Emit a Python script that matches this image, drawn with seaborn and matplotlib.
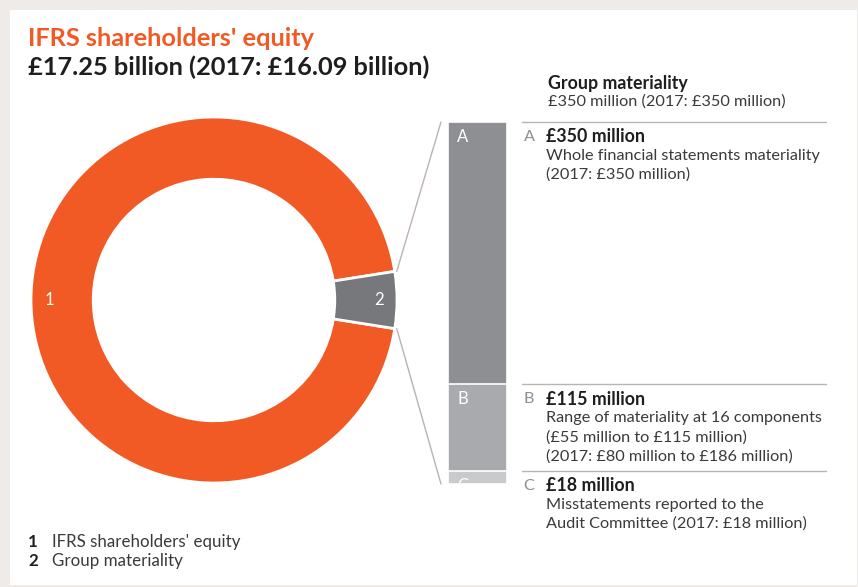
import matplotlib
matplotlib.use("Agg")
import matplotlib.pyplot as plt
import matplotlib.transforms as mtransforms
from matplotlib.patches import Rectangle
import numpy as np
import pandas as pd
import seaborn as sns

# --- data ---
donut_labels = ["1", "2"]
donut_names = ["IFRS shareholders' equity", "Group materiality"]
donut_share = [95.0, 5.0]          # share of ring as drawn in the picture (%)
seg_letters = ["A", "B", "C"]
seg_values = [350, 115, 18]        # £ million
seg_titles = ["£350 million", "£115 million", "£18 million"]
seg_notes = [
    ["Whole financial statements materiality", "(2017: £350 million)"],
    ["Range of materiality at 16 components", "(£55 million to £115 million)",
     "(2017: £80 million to £186 million)"],
    ["Misstatements reported to the", "Audit Committee (2017: £18 million)"],
]

ORANGE = "#f15a24"
SLICE_GREY = "#77787b"
SEG_COLORS = ["#8e8f92", "#a9aaad", "#c9cacc"]
RULE = "#bdb3ad"
TEXT = "#3a3a3a"
BOLD = "#1e1e1e"

W, H = 858, 587
FONT = ["Lato", "DejaVu Sans"]
BODY = 11.7
HEAD = 12.8

sns.set_theme(style="white")
plt.rcParams["font.family"] = FONT

fig = plt.figure(figsize=(W / 100, H / 100), dpi=100)
fig.patch.set_facecolor("#efebe8")


def px(x, y):
    return x / W, 1 - y / H


def box(x0, y0, x1, y1):
    return [x0 / W, 1 - y1 / H, (x1 - x0) / W, (y1 - y0) / H]


fig.add_artist(Rectangle(px(10, 585), (857 - 10) / W, (585 - 10) / H,
                         transform=fig.transFigure, facecolor="white",
                         edgecolor="none", zorder=0))

# --- titles ---
fig.text(*px(28, 38), "IFRS shareholders' equity", color=ORANGE, fontsize=18.3,
         fontweight="bold", va="center", ha="left")
fig.text(*px(28, 67), "£17.25 billion (2017: £16.09 billion)", color=BOLD,
         fontsize=18.3, fontweight="bold", va="center", ha="left")

# --- donut ---
cx, cy, r = 214, 300, 183
ax_d = fig.add_axes(box(cx - r, cy - r, cx + r, cy + r))
start = donut_share[1] / sum(donut_share) * 180
wedges, texts = ax_d.pie(donut_share, colors=[ORANGE, SLICE_GREY], labels=donut_labels,
                         startangle=start, counterclock=True, radius=1,
                         labeldistance=0.9,
                         wedgeprops=dict(width=0.34, edgecolor="white", linewidth=2),
                         textprops=dict(color="white", fontsize=12))
for t in texts:
    t.set_ha("center")
    t.set_va("center")
ax_d.set_xlim(-1, 1)
ax_d.set_ylim(-1, 1)
ax_d.set_aspect("equal")
ax_d.axis("off")

# --- stacked bar ---
ax_b = fig.add_axes(box(448, 122, 507, 484))
cum = np.cumsum(seg_values[::-1])[::-1]   # top of each segment
for i, (letter, top) in enumerate(zip(seg_letters, cum)):
    df = pd.DataFrame({"bar": ["x"], "value": [top]})
    sns.barplot(data=df, x="bar", y="value", color=SEG_COLORS[i], width=1.0,
                saturation=1, edgecolor="white", linewidth=1.2, ax=ax_b)
ax_b.set_xlim(-0.5, 0.5)
ax_b.set_ylim(0, cum[0])
ax_b.axis("off")
for i, (letter, top) in enumerate(zip(seg_letters, cum)):
    off = mtransforms.offset_copy(ax_b.transData, fig=fig, x=0, y=-15 * 0.72, units="points")
    ax_b.text(-0.25, top, letter, color="white", fontsize=12, ha="center", va="center",
              transform=off, clip_on=True)

# connector lines from slice edges to the bar
ang = np.deg2rad(start)
p_top = ax_d.transData.transform((np.cos(ang), np.sin(ang)))
p_bot = ax_d.transData.transform((np.cos(ang), -np.sin(ang)))
b_top = ax_b.transData.transform((-0.5, cum[0]))
b_bot = ax_b.transData.transform((-0.5, 0))
inv = fig.transFigure.inverted()
for a, b in [(p_top, b_top), (p_bot, b_bot)]:
    a = a + np.array([2, 0])
    b = b - np.array([7, 0])
    (x0, y0), (x1, y1) = inv.transform(a), inv.transform(b)
    fig.add_artist(plt.Line2D([x0, x1], [y0, y1], color=RULE, lw=1.0,
                              transform=fig.transFigure))

# --- right-hand notes ---
fig.text(*px(548, 83), "Group materiality", color=BOLD, fontsize=HEAD, fontweight="bold",
         va="center")
fig.text(*px(548, 102), "£350 million (2017: £350 million)", color=TEXT, fontsize=BODY,
         va="center")

blend = mtransforms.blended_transform_factory(fig.transFigure, ax_b.transData)
for i, top in enumerate(cum):
    fig.add_artist(plt.Line2D([522 / W, 826 / W], [top, top], color=RULE, lw=1.0,
                              transform=blend))
    ty = H - ax_b.transData.transform((0, top))[1]
    fig.text(*px(529, ty + 15), seg_letters[i], color="#8e8f92", fontsize=BODY,
             va="center", ha="center")
    fig.text(*px(546, ty + 15), seg_titles[i], color=BOLD, fontsize=HEAD,
             fontweight="bold", va="center")
    for j, line in enumerate(seg_notes[i]):
        fig.text(*px(546, ty + 15 + 19 * (j + 1)), line, color=TEXT, fontsize=BODY,
                 va="center")

# --- legend ---
for i, (num, name) in enumerate(zip(donut_labels, donut_names)):
    fig.text(*px(28, 542 + 19 * i), num, color=BOLD, fontsize=12.2, fontweight="bold",
             va="center")
    fig.text(*px(52, 542 + 19 * i), name, color=TEXT, fontsize=12.2, va="center")

fig.savefig("out.png", dpi=100, facecolor=fig.get_facecolor())
